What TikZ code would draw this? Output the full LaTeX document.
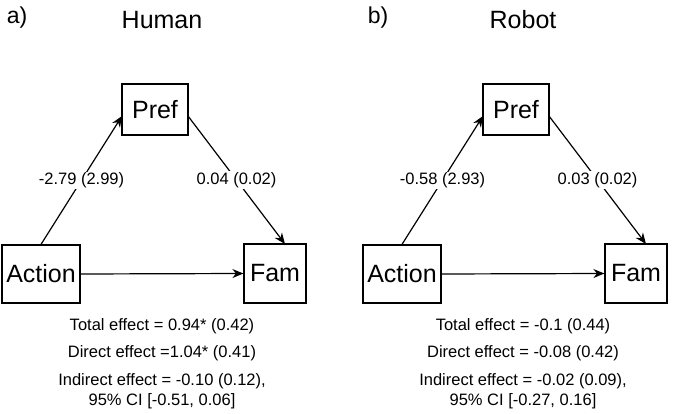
\documentclass[tikz,border=0pt]{standalone}
\usepackage{fontspec}
\setmainfont{Liberation Sans}
\usetikzlibrary{arrows.meta}
\begin{document}
\begin{tikzpicture}[x=1pt,y=-1pt,
  box/.style={draw,line width=1.2pt,font=\fontsize{25}{28}\selectfont,inner sep=0pt},
  lab/.style={fill=white,font=\fontsize{16.5}{19}\selectfont,inner sep=1pt},
  txt/.style={font=\fontsize{16.5}{19}\selectfont,align=center},
  arr/.style={-{Stealth[length=11pt,width=9pt]},line width=1.2pt}]
\useasboundingbox (0,0) rectangle (685,414);
\foreach \dx/\p/\t/\la/\lb/\ta/\tb/\tc/\td in {
  0/a)/Human/-2.79 (2.99)/0.04 (0.02)/Total effect = 0.94* (0.42)/Direct effect =1.04* (0.41)/{Indirect effect = -0.10 (0.12),}/{95\% CI [-0.51, 0.06]},
  361/b)/Robot/-0.58 (2.93)/0.03 (0.02)/Total effect = -0.1 (0.44)/Direct effect = -0.08 (0.42)/{Indirect effect = -0.02 (0.09),}/{95\% CI [-0.27, 0.16]}}{
  \begin{scope}[xshift=\dx]
  \node[font=\fontsize{23}{26}\selectfont] (p\dx) at (17,18) {\p};
  \node[font=\fontsize{25}{28}\selectfont] (t\dx) at (162,20) {\t};
  \node[box,minimum width=66pt,minimum height=51pt] (pref\dx) at (155,109.5) {Pref};
  \node[box,minimum width=78pt,minimum height=58pt] (act\dx) at (41,274) {Action};
  \node[box,minimum width=62pt,minimum height=59pt] (fam\dx) at (275,273.5) {Fam};
  \draw[arr] (act\dx.north) -- (122,116) node[lab,pos=0.5] {\la};
  \draw[arr] (188,116) -- (285,244) node[lab,pos=0.5] {\lb};
  \draw[arr] (act\dx.east) -- (fam\dx.west);
  \node[txt] (ta\dx) at (162,326) {\ta};
  \node[txt] (tb\dx) at (162,353) {\tb};
  \node[txt] (tc\dx) at (162,381) {\tc};
  \node[txt] (td\dx) at (162,401) {\td};
  \end{scope}}
\end{tikzpicture}
\end{document}
